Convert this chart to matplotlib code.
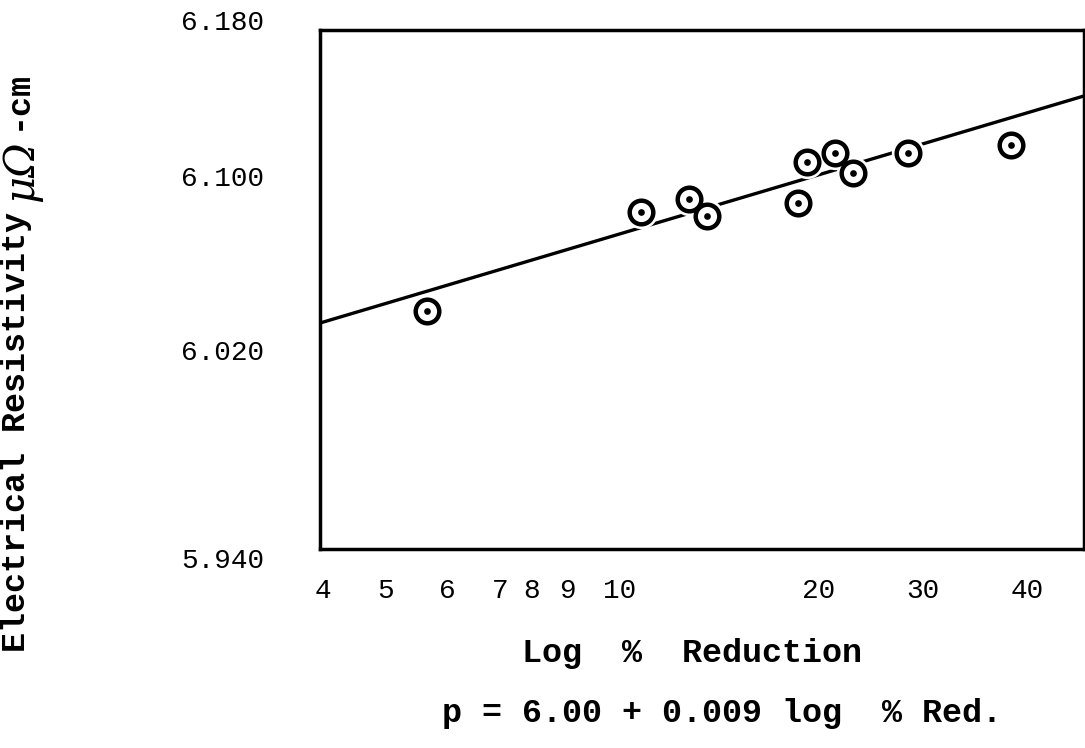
import matplotlib.pyplot as plt
from matplotlib.ticker import NullLocator, NullFormatter
from matplotlib.transforms import ScaledTranslation

# values
reduction = [5.60, 11.34, 13.28, 14.10, 19.02, 19.60, 21.49, 22.80, 27.33, 38.37]
resistivity = [6.050, 6.096, 6.102, 6.094, 6.100, 6.119, 6.123, 6.114, 6.123, 6.127]

# fitted straight line (ends at the frame)
fit_x = [3.94, 48.8]
fit_y = [6.0445, 6.1495]

x_ticks = [4, 5, 6, 7, 8, 9, 10, 20, 30, 40]
x_labels = ['4', '5', '6', '7', '8', '9', '10', '20', '30', '40']
y_ticks = [5.940, 6.020, 6.100, 6.180]
y_labels = ['5.940', '6.020', '6.100', '6.180']

# the typed labels sit a little off their true places in the original
x_shift = [-2, -7, 0, 6, -3, -3, 17, 5, -13, 4]     # pixels
y_shift = [-9, 26, 27, 10]

mono = 'Liberation Mono'

fig = plt.figure(figsize=(10.85, 7.48), dpi=100)
ax = fig.add_axes([320/1085, 199/748, 764/1085, 519/748])

ax.set_xscale('log')
ax.set_xlim(3.94, 48.8)
ax.set_ylim(5.94, 6.18)

ax.plot(fit_x, fit_y, color='black', lw=2.4, solid_capstyle='butt', zorder=2)
# white halo breaks the line around the circles
ax.plot(reduction, resistivity, ls='none', marker='o', ms=24, mfc='white', mec='none', zorder=3)
ax.plot(reduction, resistivity, ls='none', marker='o', ms=17, mfc='white',
        mec='black', mew=3.2, zorder=4)
ax.plot(reduction, resistivity, ls='none', marker='o', ms=3.8, color='black', zorder=5)

ax.xaxis.set_minor_locator(NullLocator())
ax.xaxis.set_minor_formatter(NullFormatter())
ax.set_xticks(x_ticks)
ax.set_xticklabels(x_labels, fontfamily=mono, fontsize=20)
ax.set_yticks(y_ticks)
ax.set_yticklabels(y_labels, fontfamily=mono, fontsize=20)
ax.tick_params(axis='x', length=0, pad=21)
ax.tick_params(axis='y', length=0, pad=40)

for lab, d in zip(ax.get_xticklabels(), x_shift):
    lab.set_transform(lab.get_transform() + ScaledTranslation(d/100, 0, fig.dpi_scale_trans))
for lab, d in zip(ax.get_yticklabels(), y_shift):
    lab.set_transform(lab.get_transform() + ScaledTranslation(0, d/100, fig.dpi_scale_trans))

for s in ax.spines.values():
    s.set_linewidth(2.5)

# y label: typed words, hand-written unit
fig.text(17/1085, (748-652)/748, 'Electrical Resistivity', rotation=90,
         ha='center', va='bottom', fontfamily=mono, fontweight='bold', fontsize=24)
fig.text(21/1085, (748-202)/748, 'μΩ', rotation=90, ha='center', va='bottom',
         fontfamily='DejaVu Serif', fontstyle='italic', fontsize=30)
fig.text(17/1085, (748-130)/748, '-cm', rotation=90, ha='center', va='bottom',
         fontfamily=mono, fontweight='bold', fontsize=24)

fig.text(692/1085, (748-662)/748, 'Log  %  Reduction', ha='center', va='baseline',
         fontfamily=mono, fontweight='bold', fontsize=24)
fig.text(442/1085, (748-722)/748, 'p = 6.00 + 0.009 log  % Red.', ha='left', va='baseline',
         fontfamily=mono, fontweight='bold', fontsize=24)

fig.savefig('out.png', dpi=100)
